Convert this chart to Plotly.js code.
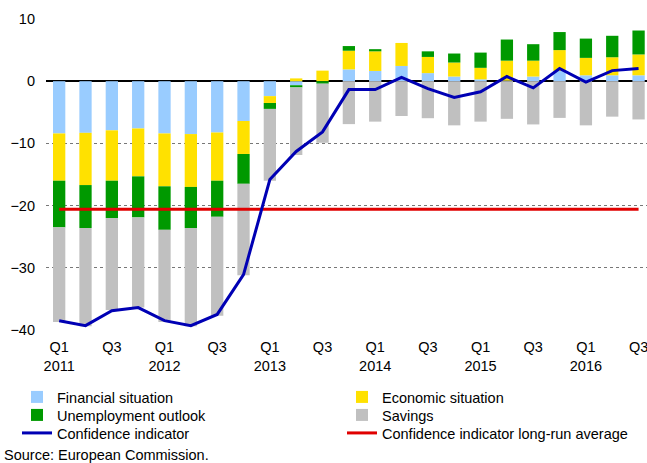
<!DOCTYPE html>
<html>
<head>
<meta charset="utf-8">
<script src="https://cdn.plot.ly/plotly-3.0.1.min.js"></script>
<style>html,body{margin:0;padding:0;background:#fff;}#chart{width:647px;height:463px;}</style>
</head>
<body>
<div id="chart"></div>
<script>
const quarters = ['2011 Q1','2011 Q2','2011 Q3','2011 Q4','2012 Q1','2012 Q2','2012 Q3','2012 Q4',
  '2013 Q1','2013 Q2','2013 Q3','2013 Q4','2014 Q1','2014 Q2','2014 Q3','2014 Q4',
  '2015 Q1','2015 Q2','2015 Q3','2015 Q4','2016 Q1','2016 Q2','2016 Q3'];
const tickLabels = ['Q1<br>2011','Q3','Q1<br>2012','Q3','Q1<br>2013','Q3','Q1<br>2014','Q3','Q1<br>2015','Q3','Q1<br>2016','Q3'];

const financial = [-8.4,-8.3,-7.9,-7.6,-8.4,-8.5,-8.25,-6.4,-2.4,-0.65,0,1.9,1.65,2.45,1.3,0.75,0.3,0.1,0.75,1.65,0.95,0.95,0.95];
const economic = [-7.6,-8.4,-8.1,-7.7,-8.5,-8.5,-7.75,-5.3,-1.1,0.45,1.7,3.0,3.15,3.7,2.6,2.25,1.85,3.2,2.55,3.35,2.8,2.9,3.35];
const unemployment = [-7.5,-6.9,-6.0,-6.6,-7.0,-6.6,-5.8,-4.8,-0.95,-0.35,-0.4,0.75,0.35,0,0.9,1.45,2.45,3.4,2.65,2.9,3.1,3.45,3.85];
const savings = [-15.2,-15.8,-14.8,-14.5,-14.8,-15.8,-15.9,-14.7,-11.55,-10.85,-9.5,-6.9,-6.5,-5.6,-5.95,-7.1,-6.5,-6.05,-6.95,-5.9,-7.1,-5.7,-6.15];
const confidence = [-38.5,-39.3,-36.9,-36.4,-38.5,-39.3,-37.5,-31.1,-15.8,-11.3,-8.15,-1.35,-1.35,0.6,-1.2,-2.6,-1.7,0.75,-1.07,2.05,-0.15,1.7,2.05];
const longRunAverage = [-20.6,-20.6,-20.6,-20.6,-20.6,-20.6,-20.6,-20.6,-20.6,-20.6,-20.6,-20.6,-20.6,-20.6,-20.6,-20.6,-20.6,-20.6,-20.6,-20.6,-20.6,-20.6,-20.6];

const names = ['Financial situation','Economic situation','Unemployment outlook','Savings','Confidence indicator','Confidence indicator long-run average'];
const colors = ['#99CCFF','#FFE100','#009900','#C0C0C0','#0000B4','#E00000'];

const FONT = 'Liberation Sans, Arial, sans-serif';
const FS = 14.5;

const tickVals = quarters.filter((q, i) => i % 2 === 0);

function barTrace(y, i, lg, lw) {
  return {type:'bar', x:quarters, y:y, name:names[i], legend:lg, legendwidth:lw,
    marker:{color:colors[i], line:{width:0}}, hoverinfo:'skip'};
}
const data = [
  barTrace(financial, 0, 'legend', 280),
  barTrace(economic, 1, 'legend', 255),
  barTrace(unemployment, 2, 'legend2', 280),
  barTrace(savings, 3, 'legend2', 255),
  {type:'scatter', mode:'lines', x:quarters, y:longRunAverage, name:names[5], legend:'legend3', legendwidth:255,
    line:{color:colors[5], width:3}, hoverinfo:'skip'},
  {type:'scatter', mode:'lines', x:quarters, y:confidence, name:names[4], legend:'legend3', legendwidth:280,
    line:{color:colors[4], width:3}, hoverinfo:'skip'}
];

function legendAt(ypx) {
  return {orientation:'h', x:(17-46)/601, xanchor:'left', y:(330-ypx)/311, yanchor:'middle',
    traceorder:'normal', entrywidthmode:'pixels',
    font:{family:FONT, size:FS, color:'#000'}, bgcolor:'rgba(0,0,0,0)', borderwidth:0};
}
const leg3 = legendAt(433); leg3.traceorder = 'reversed';

const layout = {
  width:647, height:463,
  margin:{l:46, r:0, t:19, b:133, pad:0},
  paper_bgcolor:'#fff', plot_bgcolor:'#fff',
  barmode:'relative', bargap:0.533,
  font:{family:FONT, size:FS, color:'#000'},
  showlegend:true,
  legend:legendAt(397),
  legend2:legendAt(415),
  legend3:leg3,
  xaxis:{type:'category', range:[-0.5, 22.32], tickmode:'array', tickvals:tickVals, ticktext:tickLabels,
    showgrid:false, zeroline:false, showline:false, ticks:'outside', ticklen:4, tickcolor:'rgba(0,0,0,0)',
    tickfont:{family:FONT, size:FS, color:'#000'}, fixedrange:true},
  yaxis:{range:[-40, 10], tickvals:[-40,-30,-20,-10,0,10], showgrid:true, gridcolor:'#777', gridwidth:1,
    griddash:'3px,3px', zeroline:true, zerolinecolor:'#000', zerolinewidth:2, showline:false, ticks:'',
    ticklabelstandoff:10, tickfont:{family:FONT, size:FS, color:'#000'}, fixedrange:true},
  annotations:[{text:'Source: European Commission.', xref:'paper', yref:'paper', x:(2-46)/601, xanchor:'left',
    y:(330-455)/311, yanchor:'middle', showarrow:false, font:{family:FONT, size:FS, color:'#000'}}]
};

Plotly.newPlot('chart', data, layout, {displayModeBar:false, staticPlot:true});
</script>
</body>
</html>
